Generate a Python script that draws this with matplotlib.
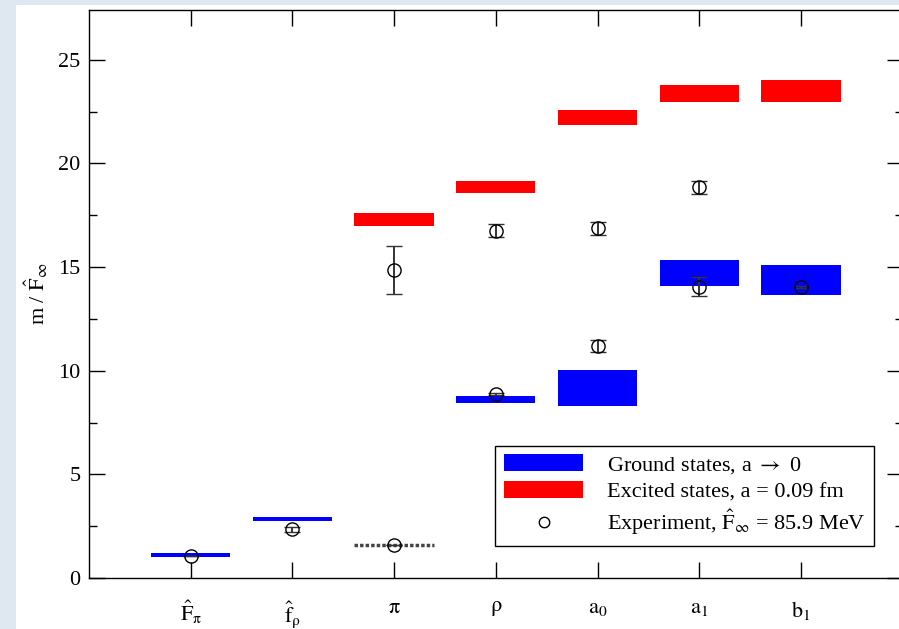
import matplotlib
matplotlib.use('Agg')
import matplotlib.pyplot as plt
from matplotlib.patches import Patch, Rectangle
from matplotlib.lines import Line2D
from matplotlib.ticker import MultipleLocator

plt.rcParams['font.family'] = ['Liberation Serif', 'DejaVu Serif']
plt.rcParams['mathtext.fontset'] = 'stix'

# categories on the x axis (positions 1..7)
categories = [r'$\hat{\mathrm{F}}_\mathrm{π}$', r'$\hat{\mathrm{f}}_\mathrm{ρ}$',
              r'$\mathrm{π}$', r'$\mathrm{ρ}$',
              r'$\mathrm{a}_0$', r'$\mathrm{a}_1$', r'$\mathrm{b}_1$']
cat_pos = [1, 2, 3, 4, 5, 6, 7]

# ground states, a -> 0 (blue bands)
ground_x = [1, 2, 4, 5, 6, 7]
ground_lo = [1.00, 2.77, 8.46, 8.30, 14.11, 13.67]
ground_hi = [1.19, 2.96, 8.78, 10.04, 15.35, 15.11]

# excited states, a = 0.09 fm (red bands)
excited_x = [3, 4, 5, 6, 7]
excited_lo = [17.00, 18.55, 21.85, 22.97, 22.97]
excited_hi = [17.63, 19.15, 22.57, 23.79, 24.02]

# pion mass (dotted line, input)
pion_x = 3
pion_y = 1.59

# experiment
exp_x = [1, 2, 3, 3, 4, 4, 5, 5, 6, 6, 7]
exp_y = [1.06, 2.36, 14.86, 1.59, 8.87, 16.76, 11.20, 16.86, 14.06, 18.84, 14.04]
exp_err = [0.0, 0.12, 1.15, 0.0, 0.05, 0.30, 0.30, 0.30, 0.47, 0.30, 0.03]

W = 0.78
FS = 16

fig = plt.figure(figsize=(8.99, 6.29), dpi=100, facecolor='#dfe8f1')
fig.patches.append(Rectangle((16 / 899, 0), 1, 1 - 5 / 629, transform=fig.transFigure,
                             facecolor='white', edgecolor='none', zorder=-10))
ax = fig.add_axes([89 / 899, 51 / 629, 813.6 / 899, 568 / 629])

ax.bar(ground_x, [h - l for h, l in zip(ground_hi, ground_lo)], bottom=ground_lo,
       width=W, color='#0000ff', zorder=2)
ax.bar(excited_x, [h - l for h, l in zip(excited_hi, excited_lo)], bottom=excited_lo,
       width=W, color='#ff0000', zorder=2)
ax.hlines(pion_y, pion_x - W / 2, pion_x + W / 2, colors='#444444', linewidth=2.5,
          linestyles=(0, (1, 0.6)), zorder=3)

ax.errorbar(exp_x, exp_y, yerr=exp_err, fmt='o', mfc='none', mec='black', mew=1.0,
            ms=9.5, ecolor='#333333', elinewidth=1.4, capsize=5.5, capthick=1.4, zorder=4)

ax.set_xlim(0, 8)
ax.set_ylim(0, 27.4)
ax.set_xticks(cat_pos)
ax.set_xticklabels(categories)
ax.yaxis.set_major_locator(MultipleLocator(5))
ax.yaxis.set_minor_locator(MultipleLocator(2.5))
ax.tick_params(which='both', direction='in', top=True, right=True, labelsize=FS)
ax.tick_params(which='major', length=11.5, width=1.0)
ax.tick_params(which='minor', length=5.8, width=1.0)
ax.tick_params(axis='x', pad=15)
ax.tick_params(axis='y', pad=6)
for s in ax.spines.values():
    s.set_linewidth(1.0)

ax.set_ylabel(r'm / $\hat{\mathrm{F}}_\infty$', fontsize=FS, labelpad=6)

handles = [Patch(facecolor='#0000ff', edgecolor='none'),
           Patch(facecolor='#ff0000', edgecolor='none'),
           Line2D([], [], marker='o', linestyle='none', mfc='none', mec='black', ms=7.5)]
labels = [r'Ground states, a $\rightarrow$ 0', 'Excited states, a = 0.09 fm',
          r'Experiment, $\hat{\mathrm{F}}_\infty$ = 85.9 MeV']
leg = ax.legend(handles, labels, loc='lower right', bbox_to_anchor=(0.965, 0.056),
                fontsize=FS, handlelength=3.55, handleheight=0.77, fancybox=False,
                framealpha=1, edgecolor='black', labelspacing=0.25, borderpad=0.4,
                handletextpad=1.05, borderaxespad=0)
leg.get_frame().set_linewidth(1.0)

fig.savefig('out.png', dpi=100, facecolor=fig.get_facecolor())
